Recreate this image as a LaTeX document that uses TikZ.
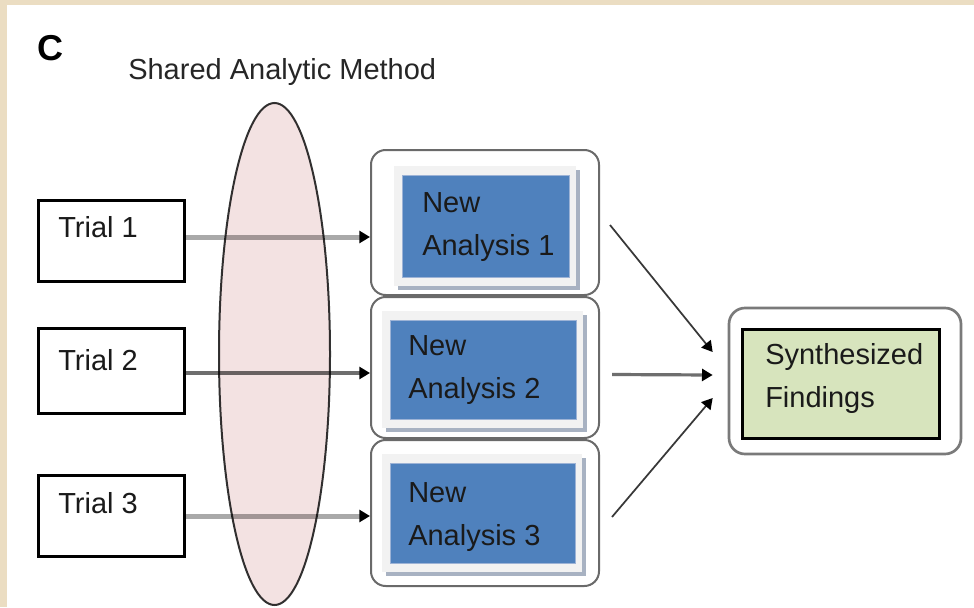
\documentclass[tikz,border=0pt]{standalone}
\usepackage{fontspec}
\setmainfont{Liberation Sans}
\usetikzlibrary{shapes.geometric,arrows.meta,calc}

\definecolor{edgebeige}{HTML}{EBDDC2}
\definecolor{methodfill}{HTML}{F3E2E2}
\definecolor{methodline}{HTML}{333333}
\definecolor{lightline}{HTML}{A9A9A9}
\definecolor{darkline}{HTML}{6E6E6E}
\definecolor{panelline}{HTML}{6A6A6A}
\definecolor{analysisblue}{HTML}{4F81BD}
\definecolor{analysisedge}{HTML}{9DB3D6}
\definecolor{framelight}{HTML}{F2F2F2}
\definecolor{frameshadow}{HTML}{A8B2C2}
\definecolor{synthgreen}{HTML}{D7E4BD}
\definecolor{inktext}{HTML}{1A1A1A}

\begin{document}
\begin{tikzpicture}[
  x=0.75pt, y=-0.75pt,
  txt/.style={font=\fontsize{21.75}{32.25}\selectfont, text=inktext,
              inner sep=0pt, align=left},
  trialbox/.style={draw=black, line width=2.25pt, fill=white,
                   minimum width=109.5pt, inner sep=0pt},
  panel/.style={draw=panelline, line width=1.5pt, rounded corners=11pt,
                fill=white, minimum width=171pt, inner sep=0pt},
  analysis/.style={fill=analysisblue, draw=analysisedge, line width=0.75pt,
                   inner sep=0pt},
  feed/.style={line width=3.75pt, color=lightline,
               -{Triangle[length=8pt,width=9pt,color=black]}},
  feedmain/.style={line width=3pt, color=darkline,
                   -{Triangle[length=8pt,width=9pt,color=black]}},
  merge/.style={line width=1.3pt, color=black!78,
                -{Triangle[length=8pt,width=9pt,color=black]}},
  mergemain/.style={line width=2.4pt, color=darkline,
                    -{Triangle[length=8pt,width=9pt,color=black]}},
]
\useasboundingbox (0,0) rectangle (974,607);

% page frame
\fill[edgebeige] (0,0) rectangle (974,607);
\fill[white] (7,5) rectangle (974,607);

% panel letter and heading
\node[font=\fontsize{27}{30}\selectfont\bfseries, text=black, inner sep=0pt,
      anchor=base west] (panelC) at (37,60) {C};
\node[txt, anchor=base west, text=black!85] (heading) at (128,79)
  {Shared Analytic Method};

% trials
\node[trialbox, minimum height=60.75pt] (t1) at (111.5,241) {};
\node[trialbox, minimum height=63.75pt] (t2) at (111.5,371) {};
\node[trialbox, minimum height=60.75pt] (t3) at (111.5,516) {};
\node[txt, anchor=base west] (t1lbl) at (58,237) {Trial 1};
\node[txt, anchor=base west] (t2lbl) at (58,370) {Trial 2};
\node[txt, anchor=base west] (t3lbl) at (58,513) {Trial 3};

% rounded panels holding the new analyses
\node[panel, minimum height=108.75pt] (a1o) at (485,222.5) {};
\node[panel, minimum height=105.75pt] (a2o) at (485,367.5) {};
\node[panel, minimum height=109.5pt]  (a3o) at (485,513) {};

% blue analysis boxes with their light bevelled frames
\coordinate (a1nw) at (402,175); \coordinate (a1se) at (569,277);
\coordinate (a2nw) at (390,320); \coordinate (a2se) at (576,419);
\coordinate (a3nw) at (390,463); \coordinate (a3se) at (575,563);
\foreach \k in {1,2,3}{
  \fill[frameshadow] ($(a\k nw)+(-4,-5)$) rectangle ($(a\k se)+(11,13)$);
  \fill[framelight]  ($(a\k nw)+(-8,-9)$) rectangle ($(a\k se)+(7,9)$);
}
\node[analysis, minimum width=125.25pt, minimum height=76.5pt] (a1) at (485.5,226) {};
\node[analysis, minimum width=139.5pt,  minimum height=74.25pt] (a2) at (483,369.5) {};
\node[analysis, minimum width=138.75pt, minimum height=75pt]    (a3) at (482.5,513) {};
\node[txt, anchor=north west] (a1lbl) at (422,192) {New\\Analysis 1};
\node[txt, anchor=north west] (a2lbl) at (408,335) {New\\Analysis 2};
\node[txt, anchor=north west] (a3lbl) at (408,482) {New\\Analysis 3};

% synthesized findings
\node[draw=black!52, line width=2pt, rounded corners=12pt, fill=white,
      minimum width=174pt, minimum height=109.5pt, inner sep=0pt] (so) at (845,381) {};
\node[draw=black, line width=2.25pt, fill=synthgreen,
      minimum width=147.75pt, minimum height=81.75pt, inner sep=0pt] (sy) at (841,384) {};
\node[txt, anchor=north west] (sylbl) at (765,343) {Synthesized\\Findings};

% each trial feeds its own new analysis
\draw[feed]     ([yshift=3pt]t1.east)     -- ([yshift=3pt]t1.east -| a1o.west);
\draw[feedmain] ([yshift=-1.5pt]t2.east)  -- ([yshift=-1.5pt]t2.east -| a2o.west);
\draw[feed]     (t3.east)                 -- (t3.east -| a3o.west);

% the shared method lies across all three feeds
\begin{scope}[blend mode=multiply]
\node[ellipse, fill=methodfill, draw=methodline, line width=1.5pt,
      minimum width=83.25pt, minimum height=376.5pt, inner sep=0pt]
      (sam) at (274.5,354) {};
\end{scope}

% analyses merge into the synthesized findings
\draw[merge]     ($(a1o.east)+(10,2.5)$) -- ($(so.west)+(-15,-29)$);
\draw[mergemain] ($(a2o.east)+(12,7)$)   -- ($(so.west)+(-15,-6)$);
\draw[merge]     ($(a3o.east)+(12,4)$)   -- ($(so.west)+(-15,17)$);
\end{tikzpicture}
\end{document}
